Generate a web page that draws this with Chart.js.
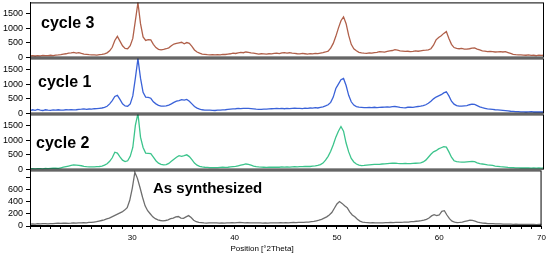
<!DOCTYPE html>
<html><head><meta charset="utf-8">
<script src="https://cdn.jsdelivr.net/npm/chart.js@4.4.1/dist/chart.umd.min.js"></script>
<style>
html,body{margin:0;padding:0;background:#fff;}
#wrap{position:relative;width:550px;height:259px;overflow:hidden;}
.panel{position:absolute;left:0;width:550px;}
</style></head><body>
<div id="wrap">
<div class="panel" style="top:-6px;height:72px"><canvas id="c1"></canvas></div>
<div class="panel" style="top:50px;height:72px"><canvas id="c2"></canvas></div>
<div class="panel" style="top:106px;height:72px"><canvas id="c3"></canvas></div>
<div class="panel" style="top:162px;height:97px"><canvas id="c4"></canvas></div>
</div>
<script>
// 2Theta sampling positions (degrees), 20..70 at 0.25 deg
const twoThetaStart = 20, twoThetaStep = 0.25;
const panelNames = ['cycle 3', 'cycle 1', 'cycle 2', 'As synthesized'];
const xTickLabels = [30, 40, 50, 60, 70];
const xTitle = 'Position [°2Theta]';
const yTicksCycles = [0, 500, 1000, 1500];
const yTicksAsSynth = [0, 200, 400, 600];

const cycle3 = [
 60,70,55,65, 60,75,65,70, 80,70,85,90, 100,120,130,150, 160,175,150,170,
 140,120,110,100, 95,90,85,100, 110,130,160,230, 350,580,720,560, 400,310,300,400,
 650,1250,1860,1150, 700,580,610,600, 450,340,280,265, 280,300,330,400, 460,480,500,520,
 470,510,480,380, 260,190,150,120, 110,100,95,100, 90,100,95,110, 105,120,130,150,
 140,160,175,165, 190,175,160,150, 135,120,130,125, 120,130,125,140, 150,135,160,170,
 155,165,150,140, 130,125,140,130, 120,135,125,140, 135,150,165,190, 220,320,480,720,
 1000,1250,1380,1150, 750,450,300,230, 180,160,150,145, 160,150,170,180, 200,195,185,210,
 230,240,270,250, 230,220,210,215, 200,210,225,215, 230,245,250,260, 300,420,600,680,
 740,820,880,650, 450,340,310,300, 310,290,285,300, 320,330,290,260, 230,220,200,210,
 200,190,195,205, 190,200,170,140, 110,100,95,90, 85,80,90,75, 80,70,85,75,
 80];
const cycle1 = [
 100,130,110,140, 120,105,130,115, 110,125,120,130, 120,115,130,125, 135,125,130,145,
 150,160,145,155, 150,165,170,180, 190,210,250,330, 440,580,620,480, 330,260,250,330,
 600,1200,1860,1200, 720,560,550,520, 400,330,280,255, 250,260,290,330, 380,420,440,470,
 460,480,420,330, 240,185,150,130, 120,115,120,110, 105,115,120,125, 130,140,150,160,
 165,175,170,180, 175,180,170,160, 150,145,140,150, 155,160,165,170, 175,170,180,165,
 175,170,180,185, 175,180,170,185, 180,190,185,200, 190,210,230,260, 300,380,560,850,
 1000,1150,1190,950, 620,400,290,240, 220,210,200,205, 210,200,215,205, 210,215,220,225,
 220,235,240,230, 210,200,195,215, 220,210,225,240, 250,270,300,350, 420,500,560,600,
 640,700,740,600, 420,320,270,250, 255,265,270,300, 320,310,270,230, 200,180,160,150,
 140,130,125,120, 110,100,90,80, 75,70,65,60, 60,55,60,65, 55,60,55,60,
 55];
const cycle2 = [
 20,30,25,35, 30,25,40,35, 40,45,50,40, 60,80,100,120, 140,160,150,140,
 130,110,100,95, 90,95,100,105, 120,150,200,280, 400,590,560,430, 320,270,300,450,
 750,1500,1900,1100, 750,560,550,540, 420,300,220,180, 160,170,210,280, 350,420,470,450,
 470,500,440,340, 220,150,110,90, 80,75,70,70, 65,70,75,80, 75,80,90,100,
 110,130,150,170, 190,180,150,120, 100,90,85,80, 75,80,85,80, 85,80,90,85,
 90,85,95,100, 95,100,100,105, 110,105,115,125, 140,170,220,320, 450,620,840,1100,
 1300,1460,1300,900, 600,380,260,190, 150,135,140,150, 160,170,175,180, 180,190,195,205,
 210,215,220,210, 205,200,210,205, 200,210,215,220, 230,260,320,420, 520,600,640,700,
 740,780,760,600, 420,300,270,260, 255,250,260,270, 275,270,230,200, 190,180,160,150,
 140,120,110,100, 95,85,75,70, 65,60,60,55, 55,60,55,50, 55,50,55,50,
 55];
const asSynthesized = [
 30,35,32,38, 35,40,38,36, 40,38,42,45, 42,45,48,44, 46,50,48,52,
 50,55,52,58, 60,65,70,80, 90,100,115,130, 150,170,190,210, 230,260,300,420,
 620,880,780,630, 470,330,250,200, 150,120,100,90, 85,90,100,120, 130,150,155,130,
 125,150,170,140, 95,70,60,55, 50,48,50,52, 50,52,48,50, 48,50,52,55,
 52,55,58,55, 52,55,50,52, 50,52,50,48, 50,48,50,52, 50,52,54,52,
 55,52,55,58, 55,58,60,58, 62,65,70,75, 85,95,110,130, 150,180,220,290,
 360,400,370,330, 300,230,180,150, 110,80,65,58, 55,52,55,50, 52,50,52,55,
 55,58,55,60, 58,60,62,65, 65,70,72,78, 82,88,95,110, 130,165,185,170,
 180,240,250,180, 120,80,62,56, 60,65,75,85, 95,92,80,65, 55,48,45,40,
 40,38,35,36, 35,32,30,32, 30,28,30,28, 26,28,25,27, 25,26,24,25,
 25];

const colors = ['#b0604a', '#3a62d8', '#3cc48c', '#6e6e6e'];
const seriesList = [cycle3, cycle1, cycle2, asSynthesized];
const yMax = [1870, 1870, 1870, 910];
const labelPos = [[41, 21], [38, 24], [36, 29], [153, 18]];
const labelSize = [16, 16, 16, 15];

function toPoints(arr) {
  return arr.map((v, i) => ({x: twoThetaStart + i * twoThetaStep, y: v}));
}

const FONT = "'Liberation Sans', Arial, sans-serif";

const framePlugin = {
  id: 'frame',
  afterDatasetsDraw(chart, args, opts) {
    const {ctx, chartArea: a} = chart;
    ctx.save();
    ctx.strokeStyle = '#000';
    ctx.lineWidth = 1;
    ctx.strokeRect(a.left + 0.5, a.top + 0.5, a.right - a.left - 1, a.bottom - a.top - 1);
    ctx.fillStyle = '#000';
    ctx.font = 'bold ' + opts.size + 'px ' + FONT;
    ctx.textBaseline = 'middle';
    ctx.textAlign = 'left';
    ctx.fillText(opts.text, opts.x, a.top + opts.y);
    if (opts.xTitle) {
      ctx.font = '8px ' + FONT;
      ctx.textAlign = 'center';
      ctx.fillText(opts.xTitle, 262, a.bottom + 23);
    }
    ctx.restore();
  }
};

seriesList.forEach((data, i) => {
  const isBottom = i === 3;
  const yTicks = isBottom ? yTicksAsSynth : yTicksCycles;
  new Chart(document.getElementById('c' + (i + 1)), {
    type: 'line',
    data: {
      datasets: [{
        label: panelNames[i],
        data: toPoints(data),
        borderColor: colors[i],
        borderWidth: 1.3,
        pointRadius: 0,
        tension: 0,
        fill: false
      }]
    },
    plugins: [framePlugin],
    options: {
      responsive: true,
      maintainAspectRatio: false,
      animation: false,
      devicePixelRatio: 1,
      layout: {padding: {top: 8, bottom: isBottom ? 0 : 8, left: 0, right: 6}},
      plugins: {
        legend: {display: false},
        tooltip: {enabled: false},
        frame: {text: panelNames[i], x: labelPos[i][0], y: labelPos[i][1], size: labelSize[i], xTitle: isBottom ? xTitle : null}
      },
      scales: {
        x: {
          type: 'linear',
          min: 20, max: 70,
          display: isBottom,
          afterFit: (s) => { if (isBottom) s.height = 33; },
          grid: {drawOnChartArea: false, drawTicks: true, tickLength: 3, color: '#000'},
          border: {color: '#000'},
          ticks: {
            stepSize: 1, autoSkip: false, maxRotation: 0, minRotation: 0,
            padding: 4, color: '#000', font: {family: FONT, size: 8},
            callback: (v) => xTickLabels.includes(v) ? String(v) : ''
          }
        },
        y: {
          min: 0, max: yMax[i],
          afterFit: (s) => { s.width = 30; },
          afterBuildTicks: (s) => {
            const t = yTicks.map(v => ({value: v}));
            if (isBottom) t.push({value: 800});
            s.ticks = t;
          },
          grid: {drawOnChartArea: false, drawTicks: true, tickLength: 4, color: '#000'},
          border: {color: '#000'},
          ticks: {
            padding: 3, color: '#000', font: {family: FONT, size: 9},
            callback: (v) => (yTicks.includes(v) ? String(v) : '')
          }
        }
      }
    }
  });
});
</script>
</body></html>
